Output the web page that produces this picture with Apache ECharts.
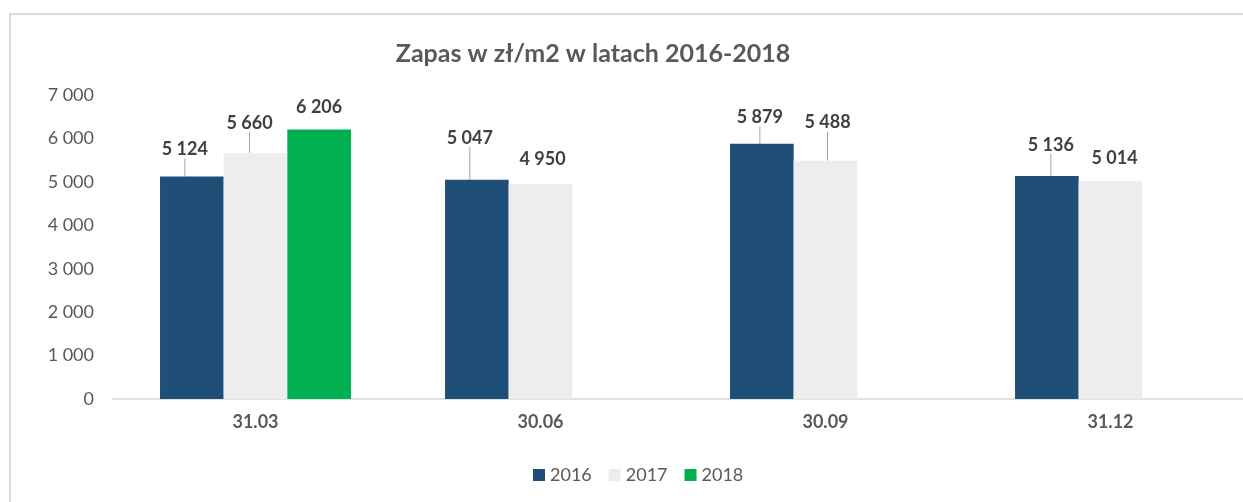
<!DOCTYPE html>
<html>
<head>
<meta charset="utf-8">
<script src="https://cdn.jsdelivr.net/npm/echarts@6/dist/echarts.min.js"></script>
<style>
  html, body { margin: 0; padding: 0; background: #fff; }
  #frame { position: absolute; left: 9px; top: 13px; width: 1240px; height: 495px;
           border-top: 2px solid #dcdfcf; border-left: 2px solid #dcdfcf; }
  #chart { position: absolute; left: 0; top: 0; width: 1243px; height: 502px; }
</style>
</head>
<body>
<div id="frame"></div>
<div id="chart"></div>
<script>
var categories = ['31.03', '30.06', '30.09', '31.12'];
var years = ['2016', '2017', '2018'];
var values2016 = [5124, 5047, 5879, 5136];
var values2017 = [5660, 4950, 5488, 5014];
var values2018 = [6206, null, null, null];
var yTicks = [0, 1000, 2000, 3000, 4000, 5000, 6000, 7000];

// label nudges (px) that copy the hand-placed labels of the original
var labelShift = [
  [[-7, -5], [-7, -20], [-2, -4], [4, -9]],
  [[-6, -8], [2, -3], [2, -16], [4, -1]],
  [[0, 0], [0, 0], [0, 0], [0, 0]]
];
var noLine = [
  [false, false, false, false],
  [false, true, false, true],
  [true, true, true, true]
];
var colors = ['#1f4e79', '#ededed', '#00b050'];
var font = 'Lato, "Open Sans", sans-serif';

function fmt(v) {
  return String(v).replace(/\B(?=(\d{3})+(?!\d))/g, ' ');
}

var chart = echarts.init(document.getElementById('chart'));

var series = [values2016, values2017, values2018].map(function (vals, si) {
  return {
    name: years[si],
    type: 'bar',
    barGap: 0,
    barCategoryGap: '33%',
    itemStyle: { color: colors[si] },
    label: {
      show: true,
      position: 'top',
      distance: 7,
      padding: [0, 0, 6, 0],
      color: '#404040',
      fontFamily: font,
      fontWeight: 'bold',
      fontSize: 18,
      formatter: function (p) { return fmt(p.value); }
    },
    labelLine: { show: true, lineStyle: { color: '#a6a6a6', width: 1 } },
    labelLayout: function (p) {
      var s = labelShift[p.seriesIndex][p.dataIndex];
      return { dx: s[0], dy: s[1] };
    },
    data: vals.map(function (v, i) {
      var item = { value: v };
      if (noLine[si][i]) item.labelLine = { show: false };
      return item;
    })
  };
});

chart.setOption({
  backgroundColor: 'transparent',
  animation: false,
  title: {
    text: 'Zapas w zł/m2 w latach 2016-2018',
    left: 588,
    top: 36,
    textAlign: 'center',
    textStyle: { color: '#595959', fontFamily: font, fontWeight: 'bold', fontSize: 25 }
  },
  legend: {
    data: years,
    left: 533,
    top: 466,
    padding: 0,
    icon: 'rect',
    itemWidth: 12,
    itemHeight: 12,
    itemGap: 17,
    textStyle: { color: '#595959', fontFamily: font, fontSize: 18 }
  },
  // the original plot runs past the right edge of the picture
  grid: { left: 113, width: 1140, top: 95, bottom: 103, outerBoundsMode: 'none' },
  xAxis: {
    type: 'category',
    data: categories,
    axisLine: { lineStyle: { color: '#d9d9d9', width: 1.5 } },
    axisTick: { show: false },
    axisLabel: { margin: 14, color: '#595959', fontFamily: font, fontWeight: 'bold', fontSize: 18 }
  },
  yAxis: {
    type: 'value',
    min: yTicks[0],
    max: yTicks[yTicks.length - 1],
    interval: 1000,
    axisLine: { show: false },
    axisTick: { show: false },
    splitLine: { show: false },
    axisLabel: { margin: 19, color: '#595959', fontFamily: font, fontSize: 18, formatter: fmt }
  },
  series: series
});
</script>
</body>
</html>
